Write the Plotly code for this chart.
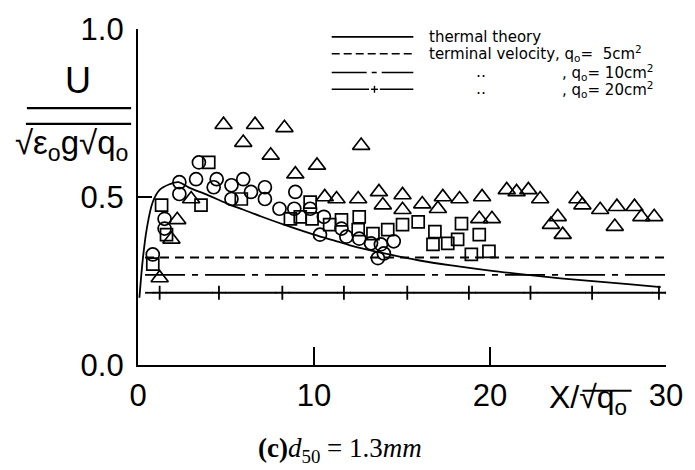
import plotly.graph_objects as go

# ---------------- data ----------------
theory_x = [0.08, 0.28, 0.5, 0.84, 1.23, 1.79, 2.3, 2.9, 4.0, 5.0, 6.0, 7.0, 8.5, 10.0, 11.3,
            12.0, 14.0, 16.0, 18.0, 20.0, 22.0, 24.0, 26.0, 28.0, 29.7]
theory_y = [0.20, 0.318, 0.406, 0.485, 0.521, 0.538, 0.544, 0.528, 0.505, 0.482, 0.462, 0.442,
            0.414, 0.388, 0.368, 0.357, 0.332, 0.311, 0.295, 0.281, 0.269, 0.258, 0.249, 0.240, 0.232]

tv_x = [0.4, 30.0]
tv_q5 = 0.32
tv_q10 = 0.268
tv_q20 = 0.215
plus_x = [1.23, 4.6, 8.2, 11.7, 15.3, 18.8, 22.3, 25.8, 29.6]

circ_x = [0.84, 1.51, 1.51, 2.35, 2.35, 3.30, 3.46, 4.30, 4.47, 5.31, 5.31, 5.98, 6.42, 7.21,
          7.21, 8.04, 8.88, 8.94, 9.78, 10.56, 10.34, 11.56, 11.84, 12.57, 13.24, 13.80,
          14.53, 13.97, 13.63]
circ_y = [0.329, 0.435, 0.406, 0.544, 0.509, 0.553, 0.603, 0.529, 0.553, 0.535, 0.494, 0.553,
          0.515, 0.529, 0.494, 0.465, 0.465, 0.515, 0.465, 0.441, 0.388, 0.406, 0.382, 0.376,
          0.362, 0.359, 0.368, 0.332, 0.318]

sq_x = [0.84, 1.34, 1.62, 3.58, 4.02, 5.87, 8.66, 9.22, 9.78, 9.89, 10.89, 11.56, 12.57, 12.51,
        13.35, 14.19, 15.03, 15.92, 16.87, 16.76, 17.60, 18.16, 18.38, 19.39, 19.94, 18.94]
sq_y = [0.300, 0.476, 0.388, 0.476, 0.603, 0.494, 0.435, 0.441, 0.485, 0.435, 0.418, 0.432,
        0.441, 0.403, 0.391, 0.403, 0.418, 0.426, 0.397, 0.359, 0.362, 0.374, 0.421, 0.388,
        0.338, 0.329]

tri_x = [1.23, 1.90, 2.23, 3.02, 4.86, 6.65, 8.32, 5.98, 7.54, 10.17, 8.94, 10.61, 11.28,
         12.51, 12.68, 13.69, 13.91, 15.03, 15.03, 16.15, 17.32, 17.04, 18.27, 19.55, 19.39,
         20.11, 20.95, 21.51, 22.18, 22.85, 23.85, 23.46, 24.13, 24.97, 25.25, 26.26, 27.21,
         27.09, 28.21, 28.60, 29.33]
tri_y = [0.259, 0.374, 0.432, 0.494, 0.715, 0.715, 0.706, 0.662, 0.624, 0.594, 0.568, 0.500,
         0.494, 0.494, 0.653, 0.515, 0.476, 0.506, 0.462, 0.479, 0.500, 0.465, 0.494, 0.500,
         0.435, 0.435, 0.521, 0.515, 0.521, 0.494, 0.441, 0.418, 0.388, 0.494, 0.476, 0.462,
         0.471, 0.412, 0.471, 0.441, 0.441]

x_ticks = [0, 10, 20, 30]
x_ticktext = ["0", "10", "20", "30"]
y_ticks = [0.0, 0.5, 1.0]
y_ticktext = ["0.0", "0.5", "1.0"]

# ---------------- layout geometry ----------------
W, H = 695, 470
L, R, T, B = 138, 675, 25, 365
FONT = "Liberation Sans"
LFONT = "DejaVu Sans"


def px(xp):
    return (xp - L) / (R - L)


def py(yp):
    return (B - yp) / (B - T)


fig = go.Figure()

# thermal theory
fig.add_trace(go.Scatter(x=theory_x, y=theory_y, mode="lines",
                         line=dict(color="black", width=1.8, shape="spline"),
                         showlegend=False, hoverinfo="skip"))
# terminal velocities
fig.add_trace(go.Scatter(x=tv_x, y=[tv_q5, tv_q5], mode="lines",
                         line=dict(color="black", width=1.8, dash="9px,6px"),
                         showlegend=False))
fig.add_trace(go.Scatter(x=tv_x, y=[tv_q10, tv_q10], mode="lines",
                         line=dict(color="black", width=1.8, dash="40px,7px,6px,7px"),
                         showlegend=False))
seg_x, seg_y = [], []
starts = [tv_x[0]] + [p + 0.35 for p in plus_x]
ends = [p - 0.35 for p in plus_x] + [tv_x[1]]
for s, e in zip(starts, ends):
    if e > s:
        seg_x += [s, e, None]
        seg_y += [tv_q20, tv_q20, None]
fig.add_trace(go.Scatter(x=seg_x, y=seg_y, mode="lines",
                         line=dict(color="black", width=1.8), showlegend=False))
fig.add_trace(go.Scatter(x=plus_x, y=[tv_q20] * len(plus_x), mode="markers",
                         marker=dict(symbol="cross-thin", size=10,
                                     line=dict(color="black", width=1.8)),
                         showlegend=False))

# data markers
fig.add_trace(go.Scatter(x=circ_x, y=circ_y, mode="markers", name="circles",
                         marker=dict(symbol="circle-open", size=13, color="black",
                                     line=dict(width=1.7)), showlegend=False))
fig.add_trace(go.Scatter(x=sq_x, y=sq_y, mode="markers", name="squares",
                         marker=dict(symbol="square-open", size=12, color="black",
                                     line=dict(width=1.7)), showlegend=False))
fig.add_trace(go.Scatter(x=tri_x, y=tri_y, mode="markers", name="triangles",
                         marker=dict(symbol="triangle-up-open", size=15, color="black",
                                     line=dict(width=1.7)), showlegend=False))

# ---------------- hand-drawn legend ----------------
ROWS = [33, 50, 69, 86]
shapes = []
lx0, lx1 = 335, 418
shapes.append(dict(type="line", xref="paper", yref="paper", x0=px(lx0), x1=px(lx1),
                   y0=py(ROWS[0]), y1=py(ROWS[0]), line=dict(color="black", width=1.6)))
shapes.append(dict(type="line", xref="paper", yref="paper", x0=px(lx0), x1=px(lx1),
                   y0=py(ROWS[1]), y1=py(ROWS[1]),
                   line=dict(color="black", width=1.6, dash="8px,4px")))
shapes.append(dict(type="line", xref="paper", yref="paper", x0=px(lx0), x1=px(lx1),
                   y0=py(ROWS[2]), y1=py(ROWS[2]),
                   line=dict(color="black", width=1.6, dash="35px,5px,5px,5px")))
r4 = ROWS[3]
shapes.append(dict(type="line", xref="paper", yref="paper", x0=px(lx0), x1=px(373),
                   y0=py(r4), y1=py(r4), line=dict(color="black", width=1.6)))
shapes.append(dict(type="line", xref="paper", yref="paper", x0=px(384), x1=px(lx1),
                   y0=py(r4), y1=py(r4), line=dict(color="black", width=1.6)))
shapes.append(dict(type="line", xref="paper", yref="paper", x0=px(375), x1=px(382),
                   y0=py(r4), y1=py(r4), line=dict(color="black", width=1.4)))
shapes.append(dict(type="line", xref="paper", yref="paper", x0=px(378.5), x1=px(378.5),
                   y0=py(r4 - 3.5), y1=py(r4 + 3.5), line=dict(color="black", width=1.4)))

# y-axis title fraction bar and root vinculum
shapes.append(dict(type="line", xref="paper", yref="paper", x0=px(25), x1=px(131),
                   y0=py(105), y1=py(105), line=dict(color="black", width=2.2)))
shapes.append(dict(type="line", xref="paper", yref="paper", x0=px(24), x1=px(131),
                   y0=py(121), y1=py(121), line=dict(color="black", width=2.2)))
# x-axis title vinculum
shapes.append(dict(type="line", xref="paper", yref="paper", x0=px(590), x1=px(640),
                   y0=py(391), y1=py(391), line=dict(color="black", width=2)))

ann = []
lf = dict(family=LFONT, size=15, color="black")
ann.append(dict(text="thermal theory", x=px(432), y=py(ROWS[0]), xref="paper", yref="paper",
                xanchor="left", yanchor="middle", showarrow=False, font=lf))
ann.append(dict(text="terminal velocity, q<sub>o</sub>=  5cm<sup>2</sup>", x=px(432),
                y=py(ROWS[1]), xref="paper", yref="paper", xanchor="left", yanchor="middle",
                showarrow=False, font=lf))
for yy, q in [(ROWS[2], "10"), (ROWS[3], "20")]:
    ann.append(dict(text="\u2025", x=px(487), y=py(yy), xref="paper", yref="paper",
                    xanchor="center", yanchor="middle", showarrow=False, font=lf))
    ann.append(dict(text=", q<sub>o</sub>= " + q + "cm<sup>2</sup>", x=px(664), y=py(yy),
                    xref="paper", yref="paper", xanchor="right", yanchor="middle",
                    showarrow=False, font=lf))

# y-axis title
ann.append(dict(text="U", x=px(77), y=py(77), xref="paper", yref="paper",
                xanchor="center", yanchor="middle", showarrow=False,
                font=dict(family=FONT, size=36, color="black")))
ann.append(dict(text="\u221a\u03b5<sub>o</sub>g\u221aq<sub>o</sub>", x=px(70), y=py(142),
                xref="paper", yref="paper", xanchor="center", yanchor="middle",
                showarrow=False, font=dict(family=FONT, size=33, color="black")))
# x-axis title
ann.append(dict(text="X/\u221aq<sub>o</sub>", x=px(596), y=py(400), xref="paper", yref="paper",
                xanchor="center", yanchor="middle", showarrow=False,
                font=dict(family=FONT, size=32, color="black")))
# caption
ann.append(dict(text="<b>(c)</b><i>d</i><sub>50</sub> = 1.3<i>mm</i>", x=px(343), y=py(451),
                xref="paper", yref="paper", xanchor="center", yanchor="middle",
                showarrow=False, font=dict(family="Liberation Serif", size=27, color="black")))

fig.update_layout(
    width=W, height=H, autosize=False,
    margin=dict(l=L, r=W - R, t=T, b=H - B),
    paper_bgcolor="white", plot_bgcolor="white",
    showlegend=False,
    shapes=shapes, annotations=ann,
    xaxis=dict(range=[0, 30], tickvals=x_ticks, ticktext=x_ticktext,
               showgrid=False, zeroline=False, showline=True, linecolor="black", linewidth=2.2,
               ticks="inside", ticklen=18, tickwidth=2, tickcolor="black",
               ticklabelstandoff=2,
               tickfont=dict(family=FONT, size=31, color="black")),
    yaxis=dict(range=[0, 1], tickvals=y_ticks, ticktext=y_ticktext,
               showgrid=False, zeroline=False, showline=True, linecolor="black", linewidth=2.2,
               ticks="inside", ticklen=14, tickwidth=2, tickcolor="black",
               ticklabelstandoff=6,
               tickfont=dict(family=FONT, size=31, color="black")),
)

fig.write_html("out.html")
